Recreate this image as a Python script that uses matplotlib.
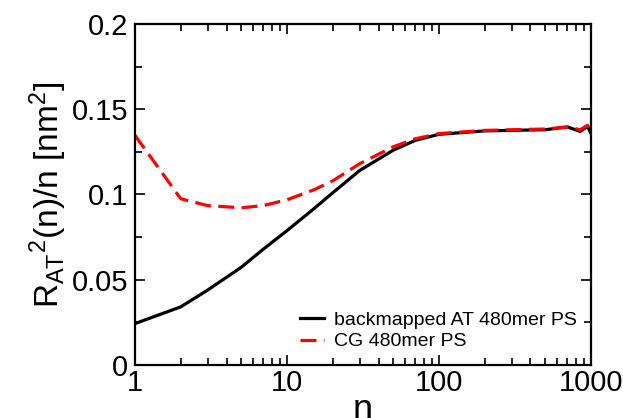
import matplotlib
matplotlib.use("Agg")
import matplotlib.pyplot as plt
from matplotlib.ticker import FixedLocator, NullFormatter, LogLocator

plt.rcParams['font.family'] = ['Liberation Sans', 'DejaVu Sans']
plt.rcParams['mathtext.fontset'] = 'custom'
plt.rcParams['mathtext.rm'] = 'Liberation Sans'
plt.rcParams['mathtext.it'] = 'Liberation Sans'

n_at = [1, 2, 3, 5, 7, 10, 15, 20, 30, 50, 70, 100, 200, 500, 700, 850, 950, 1000]
r_at = [0.0243, 0.0341, 0.0439, 0.0573, 0.068, 0.0788, 0.0916, 0.101, 0.114, 0.126,
        0.1318, 0.1353, 0.1373, 0.138, 0.1396, 0.137, 0.140, 0.1357]
n_cg = [1, 2, 3, 5, 7, 10, 15, 20, 30, 50, 70, 100, 200, 500, 700, 850, 950, 1000]
r_cg = [0.1347, 0.0975, 0.0935, 0.0922, 0.0935, 0.0969, 0.1027, 0.108, 0.118, 0.128,
        0.1327, 0.1357, 0.1376, 0.1384, 0.1396, 0.138, 0.1406, 0.136]

yticks = [0, 0.05, 0.1, 0.15, 0.2]
ytick_labels = ["0", "0.05", "0.1", "0.15", "0.2"]
xticks = [1, 10, 100, 1000]
xtick_labels = ["1", "10", "100", "1000"]

fig = plt.figure(figsize=(6.23, 4.18), dpi=100)
ax = fig.add_axes([0.2167, 0.1268, 0.9486 - 0.2167, 0.9426 - 0.1268])

ax.plot(n_at, r_at, color='black', lw=2.3, label='backmapped AT 480mer PS')
ax.plot(n_cg, r_cg, color='red', lw=2.3, dashes=(5, 2.3), label='CG 480mer PS')

ax.set_xscale('log')
ax.set_xlim(1, 1000)
ax.set_ylim(0, 0.2)
ax.set_xticks(xticks)
ax.set_xticklabels(xtick_labels)
ax.xaxis.set_minor_locator(LogLocator(base=10, subs=range(2, 10)))
ax.xaxis.set_minor_formatter(NullFormatter())
ax.set_yticks(yticks)
ax.set_yticklabels(ytick_labels)
ax.yaxis.set_minor_locator(FixedLocator([0.025, 0.075, 0.125, 0.175]))

ax.tick_params(which='both', direction='in', left=True, right=True, bottom=True, top=True,
               labelsize=21, width=1.2)
ax.tick_params(which='major', length=7)
ax.tick_params(axis='y', which='major', pad=5)
ax.tick_params(axis='x', which='major', pad=3)
ax.tick_params(which='minor', length=5)
for s in ax.spines.values():
    s.set_linewidth(1.6)

ax.set_ylabel(r'R$_{\mathrm{AT}}$$^2$(n)/n [nm$^2$]', fontsize=24, labelpad=2)
ax.set_xlabel('n', fontsize=26, labelpad=-3)

ax.legend(loc='lower right', frameon=False, fontsize=14, handlelength=1.2,
          handletextpad=0.55, borderaxespad=0.3, labelspacing=0.2,
          bbox_to_anchor=(1.0, 0.003))

fig.savefig('out.png', dpi=100)
